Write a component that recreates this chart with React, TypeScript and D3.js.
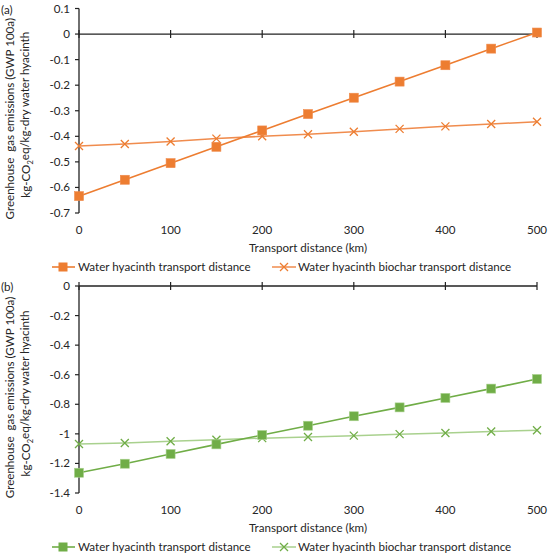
import { useEffect, useRef } from "react"
import * as d3 from "d3"

const distances = [0, 50, 100, 150, 200, 250, 300, 350, 400, 450, 500]
const xTicks = [0, 100, 200, 300, 400, 500]

// panel (a)
const hyacinthA = [-0.634, -0.57, -0.505, -0.441, -0.377, -0.313, -0.249, -0.186, -0.122, -0.057, 0.006]
const biocharA = [-0.438, -0.43, -0.42, -0.409, -0.4, -0.392, -0.382, -0.371, -0.361, -0.352, -0.343]
const yTicksA = [0.1, 0, -0.1, -0.2, -0.3, -0.4, -0.5, -0.6, -0.7]

// panel (b)
const hyacinthB = [-1.263, -1.202, -1.136, -1.071, -1.008, -0.945, -0.881, -0.821, -0.757, -0.694, -0.629]
const biocharB = [-1.069, -1.062, -1.05, -1.04, -1.029, -1.021, -1.012, -1.002, -0.994, -0.984, -0.976]
const yTicksB = [0, -0.2, -0.4, -0.6, -0.8, -1, -1.2, -1.4]

const seriesNames = ["Water hyacinth transport distance", "Water hyacinth biochar transport distance"]

type Panel = {
  tag: string
  top: number
  bottom: number
  domain: [number, number]
  yTicks: number[]
  hyacinth: number[]
  biochar: number[]
  color: string
  colorLight: string
  colorX: string
}

const panels: Panel[] = [
  { tag: "(a)", top: 8.5, bottom: 213, domain: [-0.7, 0.1], yTicks: yTicksA, hyacinth: hyacinthA, biochar: biocharA, color: "#ED7D31", colorLight: "#F08C4E", colorX: "#ED7D31" },
  { tag: "(b)", top: 286, bottom: 493, domain: [-1.4, 0], yTicks: yTicksB, hyacinth: hyacinthB, biochar: biocharB, color: "#70AD47", colorLight: "#A9D18E", colorX: "#70AD47" },
]

const FONT = "Lato, 'Open Sans', sans-serif"

const App = () => {
  const svgRef = useRef<SVGSVGElement | null>(null)

  useEffect(() => {
    const svg = d3.select(svgRef.current)
    svg.selectAll("*").remove()

    const x = d3.scaleLinear().domain([0, 500]).range([79, 537])

    panels.forEach(p => {
      const y = d3.scaleLinear().domain(p.domain).range([p.bottom, p.top])
      const g = svg.append("g").attr("font-family", FONT).attr("font-size", 11.6).attr("fill", "#262626")

      // y axis
      g.append("line")
        .attr("x1", x(0)).attr("x2", x(0))
        .attr("y1", y(p.domain[0])).attr("y2", y(p.domain[1]))
        .attr("stroke", "#222").attr("stroke-width", 1.3)
      g.selectAll(".yt").data(p.yTicks).enter().append("line")
        .attr("x1", x(0) - 4).attr("x2", x(0))
        .attr("y1", d => y(d)).attr("y2", d => y(d))
        .attr("stroke", "#222").attr("stroke-width", 1.2)
      g.selectAll(".yl").data(p.yTicks).enter().append("text")
        .attr("x", x(0) - 9).attr("y", d => y(d)).attr("dy", "0.35em")
        .attr("text-anchor", "end")
        .text(d => String(+d.toFixed(1)))

      // x axis at zero
      g.append("line")
        .attr("x1", x(0)).attr("x2", x(500))
        .attr("y1", y(0)).attr("y2", y(0))
        .attr("stroke", "#222").attr("stroke-width", 1.3)
      g.selectAll(".xt").data(xTicks).enter().append("line")
        .attr("x1", d => x(d)).attr("x2", d => x(d))
        .attr("y1", y(0) - 4).attr("y2", y(0) + 4)
        .attr("stroke", "#222").attr("stroke-width", 1.2)
      g.selectAll(".xl").data(xTicks).enter().append("text")
        .attr("x", d => x(d)).attr("y", p.bottom + 17).attr("dy", "0.35em")
        .attr("text-anchor", "middle")
        .text(d => d)
      g.append("text")
        .attr("x", 308).attr("y", p.bottom + 35).attr("dy", "0.35em")
        .attr("text-anchor", "middle")
        .text("Transport distance (km)")

      // y title
      const cy = (p.top + p.bottom) / 2 + 8
      const t1 = g.append("text").attr("transform", `translate(10,${cy}) rotate(-90)`).attr("text-anchor", "middle").attr("dy", "0.35em")
      t1.text("Greenhouse  gas emissions (GWP 100a)").attr("xml:space", "preserve")
      const t2 = g.append("text").attr("transform", `translate(26,${cy - 4}) rotate(-90)`).attr("text-anchor", "middle").attr("dy", "0.35em")
      t2.append("tspan").text("kg-CO")
      t2.append("tspan").attr("font-size", 7.5).attr("dy", "0.35em").text("2")
      t2.append("tspan").attr("dy", "-0.35em").text("eq/kg-dry water hyacinth")

      g.append("text").attr("x", 1).attr("y", p.top + 1).attr("dy", "0.35em").text(p.tag)

      // lines
      const line = d3.line<number>().x((_, i) => x(distances[i])).y(d => y(d))
      g.append("path").datum(p.biochar).attr("d", line).attr("fill", "none")
        .attr("stroke", p.colorLight).attr("stroke-width", 1.5)
      g.append("path").datum(p.hyacinth).attr("d", line).attr("fill", "none")
        .attr("stroke", p.color).attr("stroke-width", 1.6)

      const s = 4
      g.selectAll(".xm").data(p.biochar).enter().append("path")
        .attr("d", (d, i) => {
          const cx = x(distances[i]), cy2 = y(d)
          return `M${cx - s},${cy2 - s}L${cx + s},${cy2 + s}M${cx - s},${cy2 + s}L${cx + s},${cy2 - s}`
        })
        .attr("stroke", p.colorX).attr("stroke-width", 1.3).attr("fill", "none")
      g.selectAll(".sq").data(p.hyacinth).enter().append("rect")
        .attr("x", (_, i) => x(distances[i]) - 4.5).attr("y", d => y(d) - 4.5)
        .attr("width", 9).attr("height", 9)
        .attr("fill", p.color).attr("stroke", p.colorLight).attr("stroke-width", 0.6)

      // legend
      const ly = p.bottom + 54
      g.append("line").attr("x1", 52).attr("x2", 75).attr("y1", ly).attr("y2", ly)
        .attr("stroke", p.color).attr("stroke-width", 1.6)
      g.append("rect").attr("x", 63 - 4.5).attr("y", ly - 4.5).attr("width", 9).attr("height", 9)
        .attr("fill", p.color)
      g.append("text").attr("x", 78).attr("y", ly).attr("dy", "0.35em").text(seriesNames[0])
      g.append("line").attr("x1", 272).attr("x2", 296).attr("y1", ly).attr("y2", ly)
        .attr("stroke", p.colorLight).attr("stroke-width", 1.5)
      g.append("path")
        .attr("d", `M${284 - s},${ly - s}L${284 + s},${ly + s}M${284 - s},${ly + s}L${284 + s},${ly - s}`)
        .attr("stroke", p.colorX).attr("stroke-width", 1.3)
      g.append("text").attr("x", 298).attr("y", ly).attr("dy", "0.35em").text(seriesNames[1])
    })
  }, [])

  return (
    <svg ref={svgRef} width={550} height={556}
      style={{ position: "absolute", left: 0, top: 0, background: "#fff" }} />
  )
}

export default App
